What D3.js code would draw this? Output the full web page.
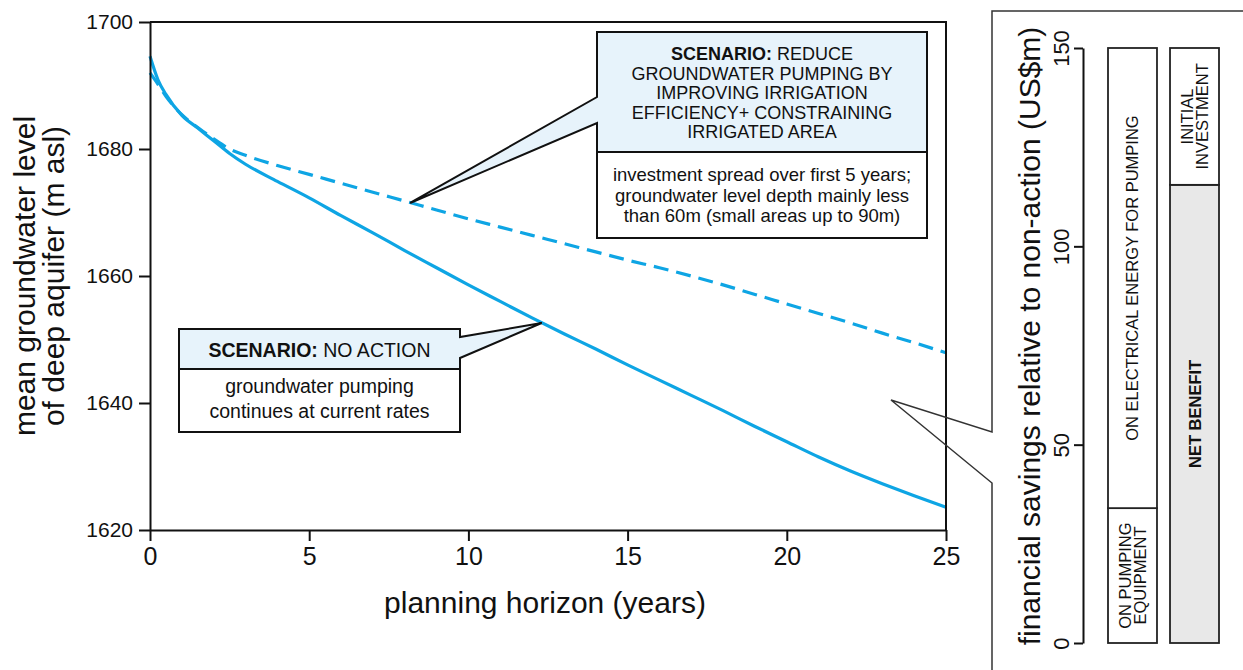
<!DOCTYPE html>
<html>
<head>
<meta charset="utf-8">
<script src="https://cdn.jsdelivr.net/npm/d3@7"></script>
<style>
  body { margin: 0; background: #fff; }
  text { font-family: "Liberation Sans", Arial, sans-serif; fill: #111; }
</style>
</head>
<body>
<div class="chart"></div>
<script>

// ---- data ----
var years = [0, 0.25, 0.5, 1, 1.5, 2, 2.5, 3, 4, 5, 6, 7, 8, 9, 10, 11, 12, 13, 14, 15, 16, 17, 18, 19, 20, 21, 22, 23, 24, 25];

// no action (solid)
var noActionLevel = [1694.6, 1690.9, 1688.6, 1685.3, 1683.3, 1681.3, 1679.3, 1677.6, 1674.9, 1672.3, 1669.5, 1666.8, 1664.0, 1661.3, 1658.6, 1656.0, 1653.4, 1650.9, 1648.5, 1646.0, 1643.6, 1641.2, 1638.8, 1636.3, 1633.9, 1631.5, 1629.3, 1627.3, 1625.4, 1623.6];

// reduce pumping (dashed)
var reducedLevel = [1692.0, 1690.2, 1688.3, 1685.4, 1683.4, 1681.6, 1680.0, 1679.0, 1677.4, 1676.0, 1674.6, 1673.2, 1671.8, 1670.4, 1669.0, 1667.7, 1666.4, 1665.1, 1663.8, 1662.5, 1661.3, 1660.0, 1658.6, 1657.1, 1655.6, 1654.1, 1652.6, 1651.0, 1649.5, 1647.9];

var xTicks = [0, 5, 10, 15, 20, 25];
var yTicks = [1620, 1640, 1660, 1680, 1700];

// right panel: stacked savings bars (US$m)
var barNames = ["savings", "investment"];
var savingsParts = [
  { bar: "savings", label: ["ON PUMPING", "EQUIPMENT"], value: 34, shaded: false, bold: false },
  { bar: "savings", label: ["ON ELECTRICAL ENERGY FOR PUMPING"], value: 116, shaded: false, bold: false },
  { bar: "investment", label: ["NET BENEFIT"], value: 115.5, shaded: true, bold: true },
  { bar: "investment", label: ["INITIAL", "INVESTMENT"], value: 34.5, shaded: false, bold: false }
];
var savingsTicks = [0, 50, 100, 150];

// callout texts
var reduceHead = ["REDUCE", "GROUNDWATER PUMPING BY", "IMPROVING IRRIGATION", "EFFICIENCY+ CONSTRAINING", "IRRIGATED AREA"];
var reduceNote = ["investment spread over first 5 years;", "groundwater level depth mainly less", "than 60m (small areas up to 90m)"];
var noActionHead = "NO ACTION";
var noActionNote = ["groundwater pumping", "continues at current rates"];

var blue = "#0ea5e4";
var paleBlue = "#e7f3fb";

var svg = d3.select(".chart")
  .append("svg")
  .attr("width", 1243)
  .attr("height", 670);

// ---- left chart ----
var xScale = d3.scaleLinear().domain([0, 25]).range([150, 946]);
var yScale = d3.scaleLinear().domain([1620, 1700]).range([530, 22]);

var lineGen = d3.line()
  .x(function(d) { return xScale(d[0]); })
  .y(function(d) { return yScale(d[1]); })
  .curve(d3.curveMonotoneX);

svg.append("path")
  .datum(d3.zip(years, reducedLevel))
  .attr("d", lineGen)
  .attr("fill", "none")
  .attr("stroke", blue)
  .attr("stroke-width", 3.2)
  .attr("stroke-dasharray", "15,8");

svg.append("path")
  .datum(d3.zip(years, noActionLevel))
  .attr("d", lineGen)
  .attr("fill", "none")
  .attr("stroke", blue)
  .attr("stroke-width", 3.2);

// frame: top and right edges
svg.append("path")
  .attr("d", "M" + xScale(0) + "," + yScale(1700) + "H" + xScale(25) + "V" + yScale(1620))
  .attr("fill", "none")
  .attr("stroke", "#111")
  .attr("stroke-width", 2);

var bottomAxis = d3.axisBottom(xScale).tickValues(xTicks).tickSizeInner(11).tickSizeOuter(0).tickPadding(6);
var leftAxis = d3.axisLeft(yScale).tickValues(yTicks).tickFormat(d3.format("d")).tickSizeInner(11).tickSizeOuter(0).tickPadding(6);

var gx = svg.append("g")
  .attr("transform", "translate(0," + yScale(1620) + ")")
  .call(bottomAxis);
gx.selectAll("text").attr("font-size", 25).attr("dy", "0.72em");

var gy = svg.append("g")
  .attr("transform", "translate(" + xScale(0) + ",0)")
  .call(leftAxis);
gy.selectAll("text").attr("font-size", 21);

svg.selectAll(".domain, .tick line").attr("stroke", "#111").attr("stroke-width", 2);
svg.selectAll(".tick text").style("font-family", "'Liberation Sans', Arial, sans-serif").attr("fill", "#111");

// axis titles
svg.append("text")
  .attr("x", 545).attr("y", 613)
  .attr("text-anchor", "middle")
  .attr("font-size", 30)
  .text("planning horizon (years)");

svg.append("text")
  .attr("transform", "translate(35,276) rotate(-90)")
  .attr("text-anchor", "middle")
  .attr("font-size", 30)
  .text("mean groundwater level");
svg.append("text")
  .attr("transform", "translate(64,276) rotate(-90)")
  .attr("text-anchor", "middle")
  .attr("font-size", 30)
  .text("of deep aquifer (m asl)");

// ---- callout: reduce pumping ----
var tip1 = [xScale(8.17), yScale(1671.5)];
svg.append("path")
  .attr("d", "M597,97 V32 H927 V152 H597 V123 L" + tip1[0] + "," + tip1[1] + "Z")
  .attr("fill", paleBlue)
  .attr("stroke", "#111")
  .attr("stroke-width", 2)
  .attr("stroke-linejoin", "miter");
svg.append("rect")
  .attr("x", 597).attr("y", 152).attr("width", 330).attr("height", 86)
  .attr("fill", "#fff").attr("stroke", "#111").attr("stroke-width", 2);

var head1 = svg.append("text")
  .attr("text-anchor", "middle")
  .attr("font-size", 18);
reduceHead.forEach(function(line, i) {
  var t = head1.append("tspan").attr("x", 762).attr("y", 60 + i * 19.6);
  if (i === 0) {
    t.append("tspan").attr("font-weight", "bold").text("SCENARIO: ");
    t.append("tspan").text(line);
  } else {
    t.text(line);
  }
});
svg.append("text")
  .attr("text-anchor", "middle")
  .attr("font-size", 18.5)
  .selectAll("tspan")
  .data(reduceNote)
  .enter()
  .append("tspan")
  .attr("x", 762)
  .attr("y", function(d, i) { return 181 + i * 20.5; })
  .text(function(d) { return d; });

// ---- callout: no action ----
var tip2 = [xScale(12.3), yScale(1652.6)];
svg.append("path")
  .attr("d", "M460,337 V329 H179 V369 H460 V358 L" + tip2[0] + "," + tip2[1] + "Z")
  .attr("fill", paleBlue)
  .attr("stroke", "#111")
  .attr("stroke-width", 2);
svg.append("rect")
  .attr("x", 179).attr("y", 369).attr("width", 281).attr("height", 63)
  .attr("fill", "#fff").attr("stroke", "#111").attr("stroke-width", 2);

var head2 = svg.append("text")
  .attr("x", 319.5).attr("y", 357)
  .attr("text-anchor", "middle")
  .attr("font-size", 19.5);
head2.append("tspan").attr("font-weight", "bold").text("SCENARIO: ");
head2.append("tspan").text(noActionHead);

svg.append("text")
  .attr("text-anchor", "middle")
  .attr("font-size", 19.5)
  .selectAll("tspan")
  .data(noActionNote)
  .enter()
  .append("tspan")
  .attr("x", 319.5)
  .attr("y", function(d, i) { return 393 + i * 25; })
  .text(function(d) { return d; });

// ---- right panel, pointing at the end of the horizon ----
svg.append("path")
  .attr("d", "M1243,11 H992 V432 L891,400 L992,483 V670")
  .attr("fill", "none")
  .attr("stroke", "#333")
  .attr("stroke-width", 1.5);

var sScale = d3.scaleLinear().domain([0, 150]).range([643, 48]);
var bScale = d3.scaleBand().domain(barNames).range([1108, 1219]).paddingInner(0.21);

// stack the parts of each bar
var runningTop = {};
savingsParts.forEach(function(p) {
  var base = runningTop[p.bar] || 0;
  p.y0 = base;
  p.y1 = base + p.value;
  runningTop[p.bar] = p.y1;
});

svg.selectAll("rect.part")
  .data(savingsParts)
  .enter()
  .append("rect")
  .attr("class", "part")
  .attr("x", function(d) { return bScale(d.bar); })
  .attr("y", function(d) { return sScale(d.y1); })
  .attr("width", bScale.bandwidth())
  .attr("height", function(d) { return sScale(d.y0) - sScale(d.y1); })
  .attr("fill", function(d) { return d.shaded ? "#e8e8e8" : "#fff"; })
  .attr("stroke", "#222")
  .attr("stroke-width", 1.8);

savingsParts.forEach(function(d) {
  var cx = bScale(d.bar) + bScale.bandwidth() / 2;
  var cy = (sScale(d.y0) + sScale(d.y1)) / 2;
  var n = d.label.length;
  var t = svg.append("text")
    .attr("transform", "translate(" + cx + "," + cy + ") rotate(-90)")
    .attr("text-anchor", "middle")
    .attr("font-size", 16.5)
    .attr("font-weight", d.bold ? "bold" : "normal")
    .attr("fill", "#222");
  d.label.forEach(function(line, i) {
    t.append("tspan")
      .attr("x", 0)
      .attr("y", (i - (n - 1) / 2) * 15.5 + 6)
      .text(line);
  });
});

var rightAxis = d3.axisLeft(sScale).tickValues(savingsTicks).tickSizeInner(9).tickSizeOuter(0).tickPadding(4);
var gs = svg.append("g")
  .attr("transform", "translate(1083,0)")
  .call(rightAxis);
gs.selectAll(".domain, .tick line").attr("stroke", "#111").attr("stroke-width", 2);
gs.selectAll("text")
  .attr("font-size", 22)
  .attr("x", null).attr("dy", null)
  .attr("text-anchor", "middle")
  .attr("transform", "translate(-14,0) rotate(-90)")
  .attr("y", 0)
  .style("font-family", "'Liberation Sans', Arial, sans-serif")
  .attr("fill", "#111");

svg.append("text")
  .attr("transform", "translate(1040,336) rotate(-90)")
  .attr("text-anchor", "middle")
  .attr("font-size", 30)
  .text("financial savings relative to non-action (US$m)");

</script>
</body>
</html>
